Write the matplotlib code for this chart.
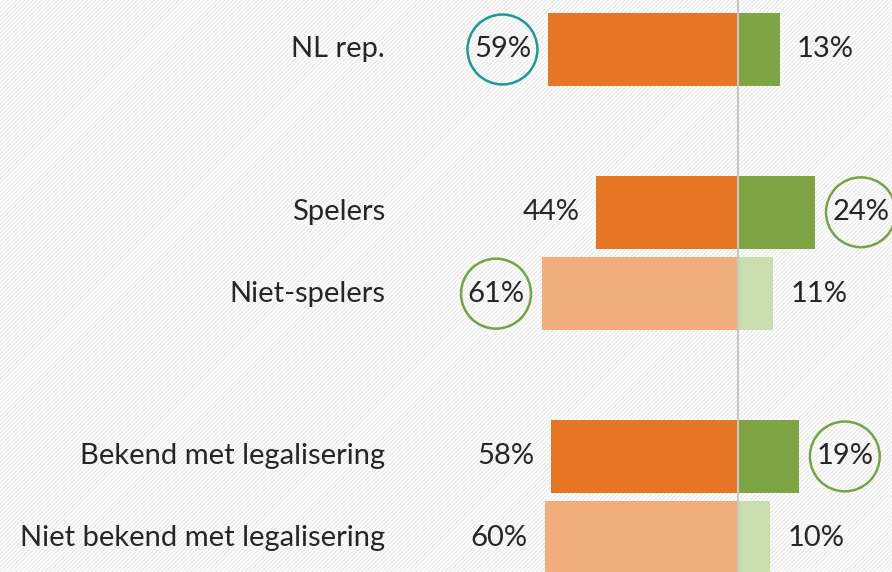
import matplotlib.pyplot as plt
from matplotlib.patches import Rectangle

plt.rcParams['font.family'] = ['Lato', 'DejaVu Sans']
plt.rcParams['hatch.linewidth'] = 0.8

# Groups with row positions (gaps between blocks)
categories = ["NL rep.", "Spelers", "Niet-spelers",
              "Bekend met legalisering", "Niet bekend met legalisering"]
rows = [0, 2, 3, 5, 6]
negative = [59, 44, 61, 58, 60]   # orange, drawn to the left
positive = [13, 24, 11, 19, 10]   # green, drawn to the right
neg_colors = ["#E67624", "#E67624", "#F1AE7C", "#E67624", "#F1AE7C"]
pos_colors = ["#7EA444", "#7EA444", "#C9DDAD", "#7EA444", "#C9DDAD"]
# highlighted labels: (row index, side, ring colour)
highlights = [(0, "neg", "#1A9A98"), (1, "pos", "#79A244"),
              (2, "neg", "#79A244"), (3, "pos", "#79A244")]

fig = plt.figure(figsize=(8.92, 5.72), dpi=100)
# faint diagonal hatching behind everything
fig.patches.append(Rectangle((0, 0), 1, 1, transform=fig.transFigure,
                             facecolor="white", edgecolor="#e8e8e8",
                             linewidth=0, hatch="////////", zorder=-10))
ax = fig.add_axes([0, 0, 1, 1])
ax.patch.set_alpha(0)

ax.barh(rows, [-v for v in negative], height=0.9, color=neg_colors, zorder=2)
ax.barh(rows, positive, height=0.9, color=pos_colors, zorder=2)
ax.axvline(0, color="#c8c8c8", lw=1.5, zorder=3)

fs = 21
gap = 5.3
hl = {(i, side): c for i, side, c in highlights}
for i, (r, name, n, p) in enumerate(zip(rows, categories, negative, positive)):
    ax.text(-109.6, r, name, ha="right", va="center", fontsize=fs, color="#262626")
    for side, val, x, ha in (("neg", n, -n - gap, "right"), ("pos", p, p + gap, "left")):
        box = None
        if (i, side) in hl:
            box = dict(boxstyle="circle,pad=0.22", facecolor="none",
                       edgecolor=hl[(i, side)], linewidth=1.8)
        ax.text(x, r, f"{val}%", ha=ha, va="center", fontsize=fs,
                color="#262626", bbox=box, zorder=4)

ax.set_xlim(-229.2, 47.8)
ax.set_ylim(6.42, -0.608)
ax.axis("off")

fig.savefig("out.png", dpi=100)
